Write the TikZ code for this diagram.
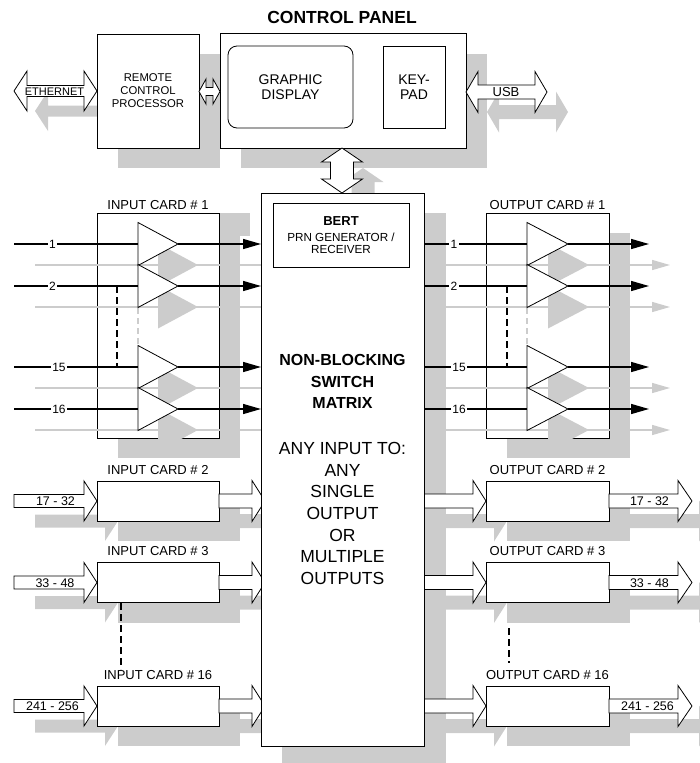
\documentclass[tikz,border=0pt]{standalone}
\usepackage{fontspec}
\setmainfont{Liberation Sans}
\usetikzlibrary{arrows.meta}
\definecolor{shgray}{RGB}{204,204,204}
\newcommand\fsz[1]{\fontsize{#1}{#1}\selectfont}
% right-pointing fat arrow: opts, x1, x2, yc, shaft half, head half, head length
\newcommand\myFatR[7][]{%
  \path[#1] ({#2},{#4-#5}) -- ({#3-#7},{#4-#5}) -- ({#3-#7},{#4-#6}) -- ({#3},{#4})
    -- ({#3-#7},{#4+#6}) -- ({#3-#7},{#4+#5}) -- ({#2},{#4+#5}) -- cycle;}
% horizontal double arrow
\newcommand\myDblH[7][]{%
  \path[#1] ({#2},{#4}) -- ({#2+#7},{#4-#6}) -- ({#2+#7},{#4-#5}) -- ({#3-#7},{#4-#5})
    -- ({#3-#7},{#4-#6}) -- ({#3},{#4}) -- ({#3-#7},{#4+#6}) -- ({#3-#7},{#4+#5})
    -- ({#2+#7},{#4+#5}) -- ({#2+#7},{#4+#6}) -- cycle;}
% vertical double arrow: opts, y1, y2, xc, shaft half, head half, head length
\newcommand\myDblV[7][]{%
  \path[#1] ({#4},{#2}) -- ({#4+#6},{#2+#7}) -- ({#4+#5},{#2+#7}) -- ({#4+#5},{#3-#7})
    -- ({#4+#6},{#3-#7}) -- ({#4},{#3}) -- ({#4-#6},{#3-#7}) -- ({#4-#5},{#3-#7})
    -- ({#4-#5},{#2+#7}) -- ({#4-#6},{#2+#7}) -- cycle;}
\begin{document}
\begin{tikzpicture}[x=1pt,y=-1pt,
  box/.style={draw=black, fill=white, line width=0.8pt, inner sep=0pt, outer sep=0pt},
  sig/.style={line width=1.4pt},
  gsig/.style={draw=shgray, line width=1.4pt},
  tri/.style={draw=black, fill=white, line width=0.8pt},
  lbl/.style={fill=white, inner sep=1.2pt, font=\fsz{12}},
  cardlbl/.style={font=\fsz{13}, inner sep=0pt},
  fat/.style={draw=black, fill=white, line width=0.8pt},
  shd/.style={fill=shgray, draw=none},
  dsh/.style={line width=1.3pt, dash pattern=on 7pt off 4pt},
  gdsh/.style={draw=shgray, line width=1.2pt, dash pattern=on 6pt off 4pt},
  tip/.style={-{Triangle[length=18pt,width=10pt]}}
]
\useasboundingbox (0,0) rectangle (699,763);

% ---------------- shadows ----------------
\fill[shd] (118,54) rectangle (220,168);
\fill[shd] (241,54) rectangle (487,168);
\myDblH[shd]{35}{118}{111}{5.5}{20}{13}
\myDblH[shd]{487}{568}{112}{7}{20.5}{12}
\myDblV[shd]{168}{213}{363}{11.5}{20.5}{14}
\fill[shd] (282,213) rectangle (446,770);
\fill[shd] (118,233) rectangle (240,458);
\fill[shd] (220,213) rectangle (250,236);
\fill[shd] (507,233) rectangle (630,458);
\foreach \yc in {501,582.5,706}{
  \fill[shd] (118,\yc) rectangle (240,\yc+40);
  \fill[shd] (507,\yc) rectangle (630,\yc+40);
  \myFatR[shd]{35}{118}{\yc+20}{6.5}{20}{13}
  \myFatR[shd]{240}{286}{\yc+20}{7}{20.5}{13}
  \myFatR[shd]{445}{507}{\yc+20}{7}{20.5}{13}
  \myFatR[shd]{630}{713}{\yc+20}{7}{20.5}{14}
}

% ---------------- control panel area ----------------
\node[font=\bfseries\fsz{17.5}] (cptitle) at (342,17) {CONTROL PANEL};
\node[box, minimum width=246, minimum height=115] (cp) at (343,90.5) {};
\node[box, rounded corners=9pt, minimum width=125, minimum height=82, align=center,
      font=\fontsize{14}{15.5}\selectfont] (gd) at (290.5,87) {GRAPHIC\\DISPLAY};
\node[box, minimum width=62, minimum height=82, align=center,
      font=\fontsize{14}{15.5}\selectfont] (kp) at (414,87) {KEY-\\PAD};
\node[box, minimum width=102, minimum height=114, align=center,
      font=\fontsize{11.3}{13}\selectfont] (rcp) at (148,91) {REMOTE\\CONTROL\\PROCESSOR};

\myDblH[fat]{14}{97}{91}{5.5}{20}{13}
\node[font=\fsz{11}, inner sep=0pt] (eth) at (54.5,91.5) {ETHERNET};
\myDblH[fat]{199}{220}{91.5}{4}{12.5}{7}
\myDblH[fat]{466}{547}{92}{7}{20.5}{12}
\node[font=\fsz{13}, inner sep=0pt] (usb) at (506,92.5) {USB};
\myDblV[fat]{148}{193}{342}{11.5}{20.5}{14}

% ---------------- card #1 boxes ----------------
\node[cardlbl] (ic1l) at (158,205) {INPUT CARD \# 1};
\node[box, minimum width=122, minimum height=225] (ic1) at (158,325.5) {};
\node[cardlbl] (oc1l) at (547.5,205) {OUTPUT CARD \# 1};
\node[box, minimum width=123, minimum height=225] (oc1) at (547.5,325.5) {};

% gray shadow lines and triangles
\foreach \r in {244,286,367,409}{
  \draw[gsig] (35,\r+21) -- (282,\r+21);
  \draw[gsig, tip, -{Triangle[length=18pt,width=10pt,fill=shgray]}] (445,\r+21) -- (670,\r+21);
  \fill[shgray] (158,\r-0.5) -- (198,\r+21) -- (158,\r+42.5) -- cycle;
  \fill[shgray] (548,\r-0.5) -- (589,\r+21) -- (548,\r+42.5) -- cycle;
}
\draw[gdsh] (138,308) -- (138,344);
\draw[gdsh] (527,308) -- (527,344);

% white triangles
\foreach \r in {244,286,367,409}{
  \draw[tri] (138,\r-21.5) -- (178,\r) -- (138,\r+21.5) -- cycle;
  \draw[tri] (527,\r-21.5) -- (568,\r) -- (527,\r+21.5) -- cycle;
}

% black signal lines
\foreach \r/\lab/\ilx/\olx in {244/1/52.5/454, 286/2/52.5/454, 367/15/59/459, 409/16/59/459}{
  \draw[sig] (14,\r) -- (138,\r);
  \node[lbl] (inl\lab) at (\ilx,\r) {\lab};
  \draw[sig, tip] (178,\r) -- (261,\r);
  \draw[sig] (424,\r) -- (527,\r);
  \node[lbl] (outl\lab) at (\olx,\r) {\lab};
  \draw[sig, tip] (568,\r) -- (649,\r);
}
\draw[dsh] (117,286) -- (117,367);
\draw[dsh] (507,286) -- (507,367);

% ---------------- cards 2, 3, 16 ----------------
\foreach \yc/\n/\lab/\ilx/\olx in {501/2/17 - 32/55.5/649.5, 582.5/3/33 - 48/55/649.5, 706/16/241 - 256/52.5/647.5}{
  \node[cardlbl] (icl\n) at (158,\yc-31) {INPUT CARD \# \n};
  \node[box, minimum width=122, minimum height=40] (ic\n) at (158,\yc) {};
  \node[cardlbl] (ocl\n) at (547.5,\yc-31) {OUTPUT CARD \# \n};
  \node[box, minimum width=123, minimum height=40] (oc\n) at (547.5,\yc) {};
  \myFatR[fat]{14}{97}{\yc}{6.5}{20}{13}
  \node[font=\fsz{12.5}, inner sep=0pt] (inr\n) at (\ilx,\yc+0.5) {\lab};
  \myFatR[fat]{219}{265}{\yc}{7}{20.5}{13}
  \myFatR[fat]{424}{486}{\yc}{7}{20.5}{13}
  \myFatR[fat]{609}{692}{\yc}{7}{20.5}{14}
  \node[font=\fsz{12.5}, inner sep=0pt] (outr\n) at (\olx,\yc+0.5) {\lab};
}
\draw[dsh] (121,603) -- (121,669);
\draw[dsh] (509,628) -- (509,663);

% ---------------- switch matrix ----------------
\node[box, minimum width=163, minimum height=553] (mx) at (342.5,469.5) {};
\node[box, minimum width=136, minimum height=64] (bert) at (341,235) {};
\node[font=\bfseries\fsz{13}, inner sep=0pt] (bert1) at (341,221) {BERT};
\node[font=\fsz{11.7}, inner sep=0pt] (bert2) at (341,237) {PRN GENERATOR /};
\node[font=\fsz{11.7}, inner sep=0pt] (bert3) at (341,249.5) {RECEIVER};
\node[font=\bfseries\fontsize{16}{21.5}\selectfont, align=center, inner sep=0pt] (mxt1) at (342.5,381.5)
  {NON-BLOCKING\\SWITCH\\MATRIX};
\node[font=\fontsize{17.5}{21.7}\selectfont, align=center, inner sep=0pt] (mxt2) at (342.5,513.5)
  {ANY INPUT TO:\\ANY\\SINGLE\\OUTPUT\\OR\\MULTIPLE\\OUTPUTS};
\end{tikzpicture}
\end{document}
